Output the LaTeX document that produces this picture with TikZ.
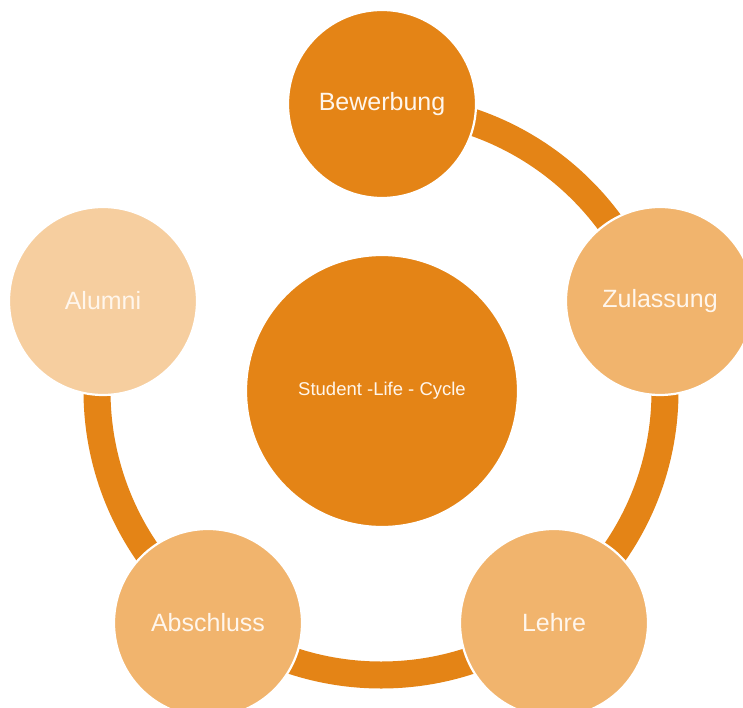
\documentclass[tikz,border=0pt]{standalone}
\usepackage{fontspec}
\setmainfont{Liberation Sans}
\definecolor{darkor}{HTML}{E48416}
\definecolor{midor}{HTML}{F1B46D}
\definecolor{lightor}{HTML}{F6CE9F}
\definecolor{txt}{HTML}{FFF6EC}
\tikzset{
  ring/.style={draw=darkor, line width=27pt},
  phase/.style={circle, minimum size=188pt, inner sep=0pt, draw=white, line width=2.2pt,
    text=txt, font=\fontsize{25}{29}\selectfont},
  hub/.style={circle, minimum size=272pt, inner sep=0pt, draw=white, line width=2.2pt,
    fill=darkor, text=txt, font=\fontsize{18.5}{22}\selectfont},
}
\begin{document}
\begin{tikzpicture}[x=1pt,y=1pt]
\useasboundingbox (0,-708) rectangle (743,0);
\clip (0,-708) rectangle (743,0);
\fill[white] (0,-708) rectangle (743,0);
\coordinate (c) at (381,-391);
\draw[ring] (c) ++(90:284) arc[start angle=90, end angle=-198, radius=284];
\node[hub] (slc) at (382,-391) {Student -Life - Cycle};
\node[phase, fill=darkor] (bew) at (382,-104) {Bewerbung};
\node[phase, fill=midor] (zul) at (660,-301) {Zulassung};
\node[phase, fill=midor] (leh) at (554,-623) {Lehre};
\node[phase, fill=midor] (abs) at (208,-623) {Abschluss};
\node[phase, fill=lightor] (alu) at (103,-301) {Alumni};
\end{tikzpicture}
\end{document}
